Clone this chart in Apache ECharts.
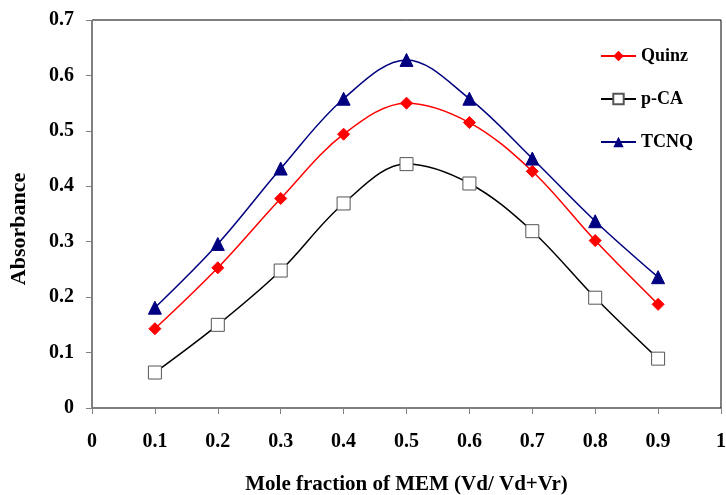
<!DOCTYPE html>
<html>
<head>
<meta charset="utf-8">
<script src="https://cdn.jsdelivr.net/npm/echarts@6/dist/echarts.min.js"></script>
<style>html,body{margin:0;padding:0;background:#fff;overflow:hidden;}#c{width:726px;height:495px;}</style>
</head>
<body>
<div id="c"></div>
<script>
var xValues = [0.1, 0.2, 0.3, 0.4, 0.5, 0.6, 0.7, 0.8, 0.9];
var quinz = [0.143, 0.253, 0.378, 0.494, 0.55, 0.515, 0.427, 0.302, 0.187];
var pCA = [0.064, 0.15, 0.248, 0.369, 0.44, 0.405, 0.319, 0.199, 0.089];
var tcnq = [0.181, 0.296, 0.432, 0.558, 0.628, 0.558, 0.45, 0.337, 0.236];
var seriesNames = ['Quinz', 'p-CA', 'TCNQ'];

function pairs(vals) { return xValues.map(function (x, i) { return [x, vals[i]]; }); }
var font = '"Liberation Serif", "Times New Roman", serif';

var chart = echarts.init(document.getElementById('c'));
chart.setOption({
  animation: false,
  backgroundColor: '#fff',
  grid: { left: 92, right: 5, top: 20, bottom: 87, show: true, borderColor: '#000', borderWidth: 1,
    containLabel: false, outerBoundsMode: 'none' },
  legend: {
    orient: 'vertical', left: 595, top: 42, itemWidth: 35, itemHeight: 13, itemGap: 25,
    textStyle: { fontFamily: font, fontWeight: 'bold', fontSize: 18, color: '#000' },
    data: seriesNames
  },
  xAxis: {
    type: 'value', min: 0, max: 1, interval: 0.1,
    name: 'Mole fraction of MEM (Vd/ Vd+Vr)', nameLocation: 'middle', nameGap: 66,
    nameTextStyle: { fontFamily: font, fontWeight: 'bold', fontSize: 21, color: '#000' },
    axisLine: { lineStyle: { color: '#808080' } },
    axisTick: { show: true, length: 6, lineStyle: { color: '#808080' } },
    splitLine: { show: false },
    axisLabel: { margin: 24, fontFamily: font, fontWeight: 'bold', fontSize: 20, color: '#000',
      formatter: function (v) { return String(Math.round(v * 10) / 10); } }
  },
  yAxis: {
    type: 'value', min: 0, max: 0.7, interval: 0.1,
    name: 'Absorbance', nameLocation: 'middle', nameGap: 62,
    nameTextStyle: { fontFamily: font, fontWeight: 'bold', fontSize: 22, color: '#000', padding: [0, 30, 0, 0] },
    axisLine: { show: true, lineStyle: { color: '#808080' } },
    axisTick: { show: true, length: 6, lineStyle: { color: '#808080' } },
    splitLine: { show: false },
    axisLabel: { margin: 18, fontFamily: font, fontWeight: 'bold', fontSize: 20, color: '#000',
      formatter: function (v) { return String(Math.round(v * 10) / 10); } }
  },
  series: [
    { name: seriesNames[0], type: 'line', smooth: 0.35, data: pairs(quinz), symbol: 'diamond', symbolSize: 12,
      lineStyle: { color: '#ff0000', width: 1.5 }, itemStyle: { color: '#ff0000', borderColor: '#ff0000' } },
    { name: seriesNames[1], type: 'line', smooth: 0.35, data: pairs(pCA), symbol: 'rect', symbolSize: 13,
      lineStyle: { color: '#000', width: 1.5 }, itemStyle: { color: '#fff', borderColor: '#555', borderWidth: 1 } },
    { name: seriesNames[2], type: 'line', smooth: 0.35, data: pairs(tcnq), symbol: 'triangle', symbolSize: 13,
      lineStyle: { color: '#000080', width: 1.5 }, itemStyle: { color: '#000080', borderColor: '#000080' } }
  ]
});
</script>
</body>
</html>
